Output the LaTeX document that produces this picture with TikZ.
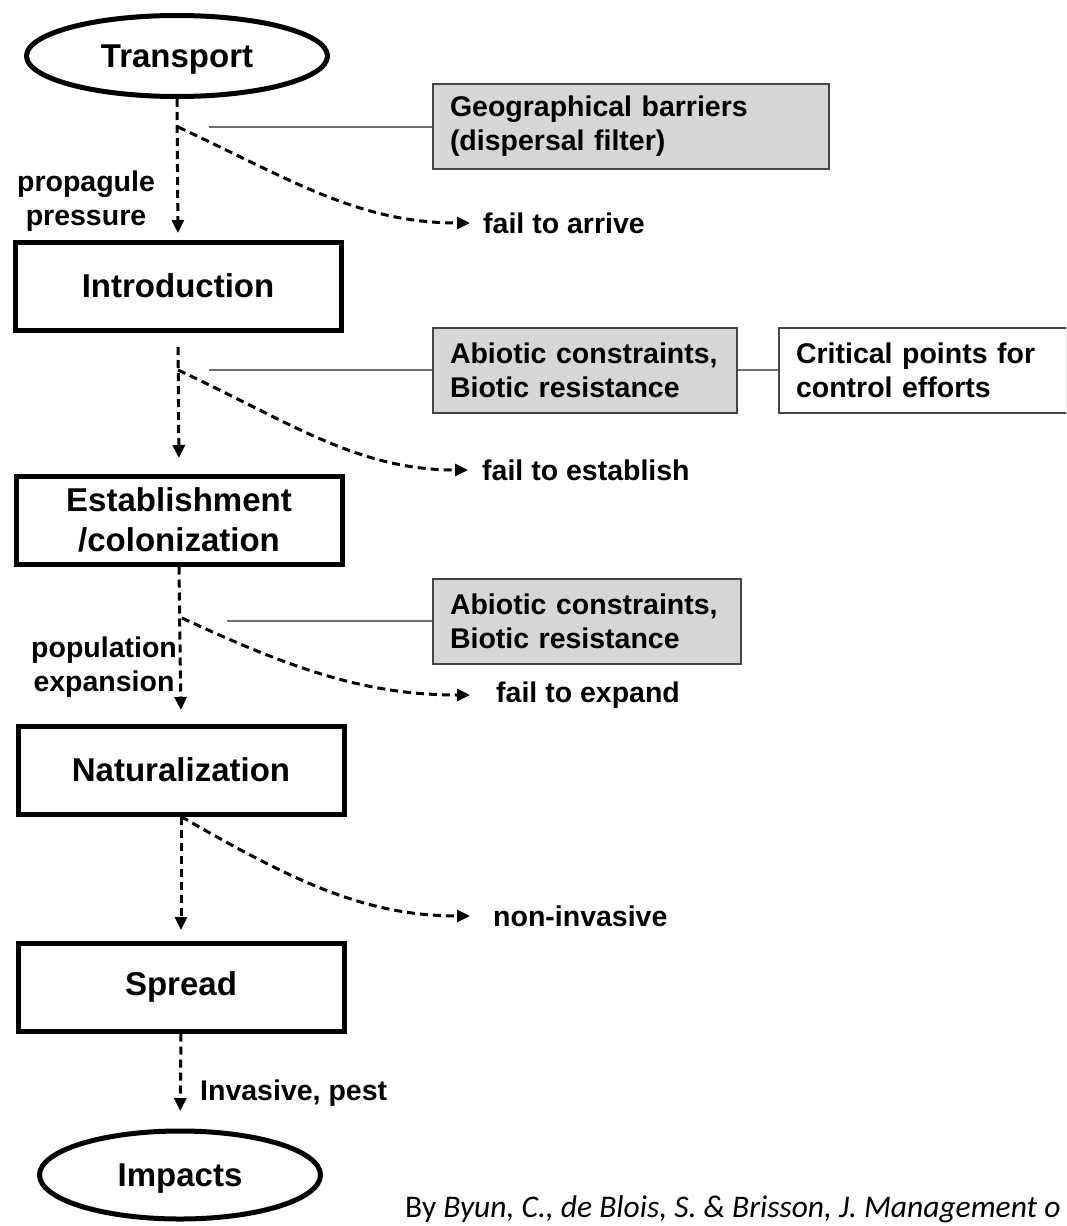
\documentclass[tikz,border=0pt]{standalone}
\usepackage{fontspec}
\setmainfont{Liberation Sans}
\newfontfamily\capfont{Carlito}
\usetikzlibrary{shapes.geometric,arrows.meta}
\definecolor{boxgrey}{RGB}{214,214,214}
\definecolor{edgegrey}{RGB}{70,70,70}
\definecolor{linkgrey}{RGB}{110,110,110}
\newcommand{\stagefont}{\fontsize{33}{40}\selectfont\bfseries}
\newcommand{\lblfont}{\fontsize{28.5}{34}\selectfont\bfseries}

\begin{document}
\begin{tikzpicture}[x=1pt,y=-1pt,
	stage/.style={draw,line width=5pt,minimum width=326pt,minimum height=88pt,font=\stagefont,align=center},
	endstage/.style={ellipse,draw,line width=5pt,font=\stagefont,inner sep=0pt,text depth=0pt},
	filter/.style={draw=edgegrey,fill=boxgrey,line width=2pt,inner xsep=17pt,minimum height=85pt,align=left,font=\lblfont},
	lbl/.style={font=\lblfont,inner sep=0pt},
	flow/.style={dash pattern=on 8pt off 5pt,line width=3pt,-{Triangle[length=13pt,width=12pt]}},
	link/.style={draw=linkgrey,line width=2pt}]
				\useasboundingbox (0,0) rectangle (1066,1226);
				\clip (0,0) rectangle (1066,1226);
				% stages
				\node[endstage,minimum width=301pt,minimum height=81pt] (trans) at (177,56) {Transport};
				\node[stage] (intro) at (178,286) {Introduction};
				\node[stage] (estab) at (179,520) {Establishment\\/colonization};
				\node[stage] (natur) at (181,770) {Naturalization};
				\node[stage] (spread) at (181,987) {Spread};
				\node[endstage,minimum width=281pt,minimum height=88pt] (impacts) at (180,1175) {Impacts};
				% filters
				\node[filter,text width=362pt] (geo) at (631,126.5) {Geographical barriers\\(dispersal filter)};
				\node[filter,text width=270pt] (abio1) at (585,370) {Abiotic constraints,\\Biotic resistance};
				\node[filter,text width=254pt,fill=white] (crit) at (923,370) {Critical points for\\control efforts};
				\node[filter,text width=274pt] (abio2) at (587,621) {Abiotic constraints,\\Biotic resistance};
				% labels
				\node[lbl,align=center] (prop) at (86,201) {propagule\\pressure};
				\node[lbl,align=center] (popu) at (104,667) {population\\expansion};
				\node[lbl,anchor=west] (inv) at (200,1093) {Invasive, pest};
				\node[lbl,anchor=west] (farr) at (483,223) {fail to arrive};
				\node[lbl,anchor=west] (fest) at (482,470) {fail to establish};
				\node[lbl,anchor=west] (fexp) at (496,695) {fail to expand};
				\node[lbl,anchor=west] (noninv) at (493,916) {non-invasive};
				\node[anchor=base west,inner sep=0pt,font=\capfont\fontsize{31.5}{36}\selectfont] (cap) at (405,1217) {By \textit{Byun, C., de Blois, S. \& Brisson, J. Management o}};
				% branch points
				\coordinate (b1) at (178,127);
				\coordinate (b2) at (178,370);
				\coordinate (b3) at (182,618);
				\coordinate (g1) at (209,126.5);
				\coordinate (g2) at (209,370);
				\coordinate (g3) at (227,621);
				% main flow
				\draw[flow,shorten >=6.5pt] (trans.south) -- (intro.north);
				\draw[flow,shorten <=14.5pt,shorten >=15.5pt] (intro.south) -- (estab.north);
				\draw[flow,shorten >=13.5pt] (estab.south) -- (natur.north);
				\draw[flow,shorten >=10.5pt] (natur.south) -- (spread.north);
				\draw[flow,shorten >=17.5pt] (spread.south) -- (impacts.north);
				% losses
				\draw[flow,shorten >=13pt] (b1) to[out=-25,in=180] (farr.west);
				\draw[flow,shorten >=14pt] (b2) to[out=-25,in=180] (fest.west);
				\draw[flow,shorten >=26pt] (b3) to[out=-25,in=180] (fexp.west);
				\draw[flow,shorten >=23pt] (natur.south) to[out=-30,in=180] (noninv.west);
				% filters
				\draw[link] (g1) -- (geo.west);
				\draw[link] (g2) -- (abio1.west);
				\draw[link] (abio1.east) -- (crit.west);
				\draw[link] (g3) -- (abio2.west);
			\end{tikzpicture}
\end{document}
